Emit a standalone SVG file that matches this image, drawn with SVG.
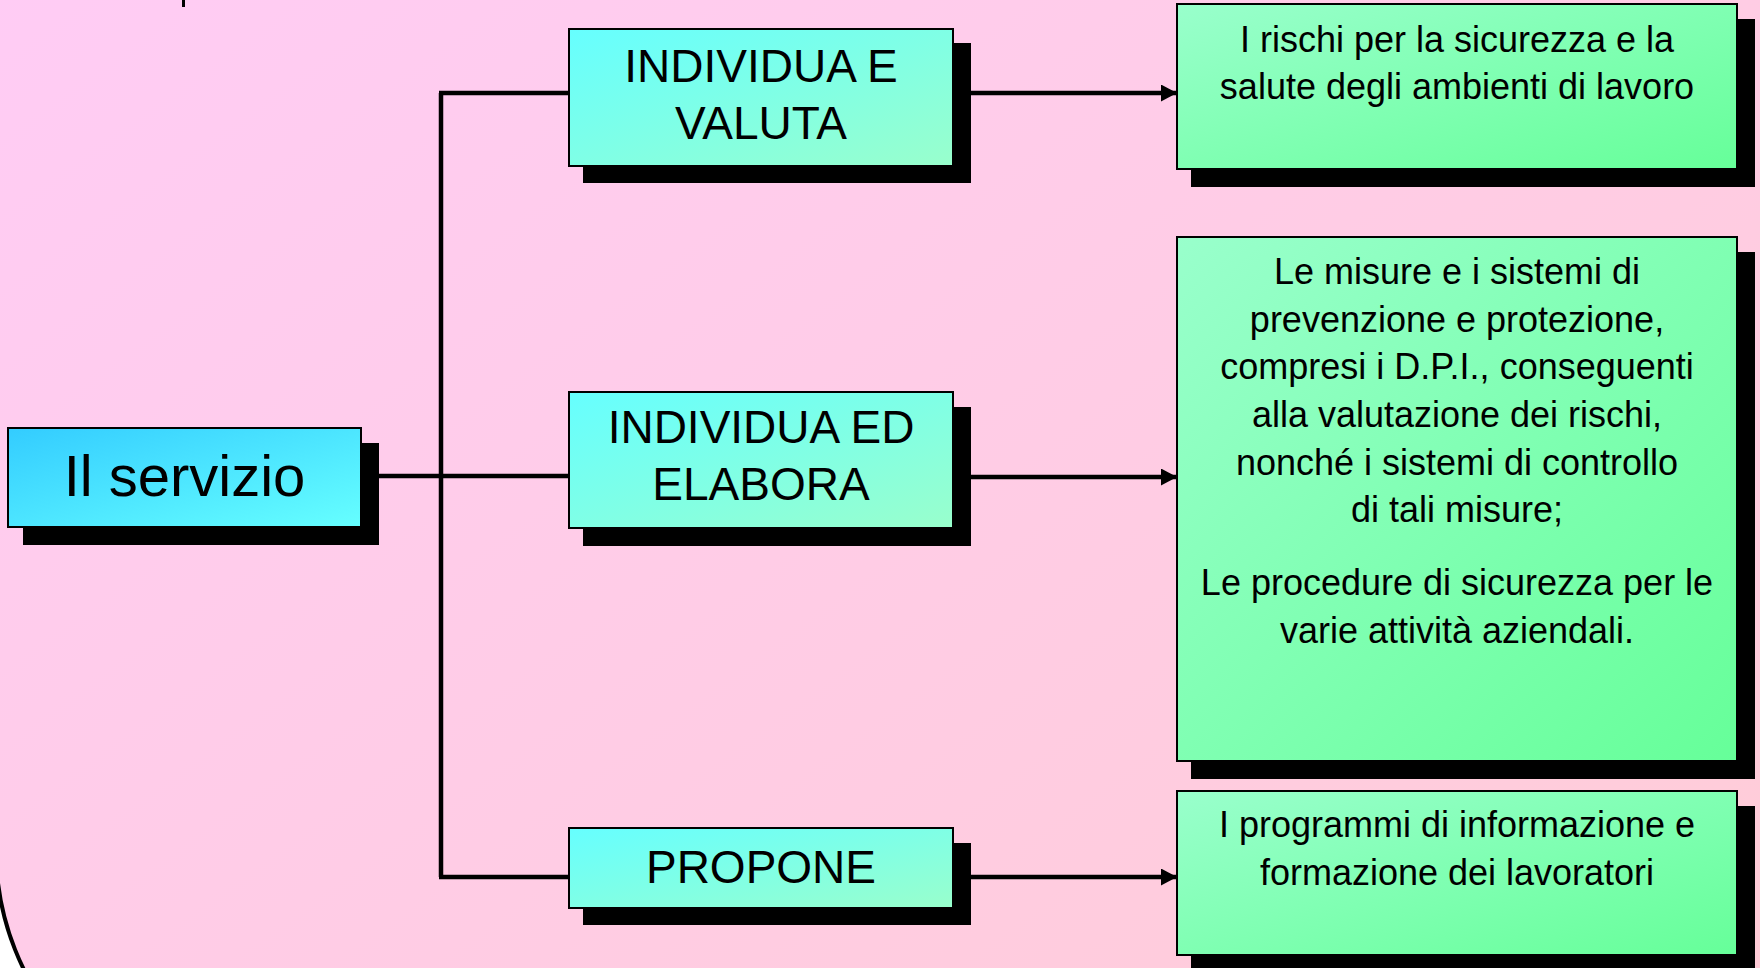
<svg xmlns="http://www.w3.org/2000/svg" width="1760" height="968" viewBox="0 0 1760 968">
  <defs>
    <linearGradient id="bg" x1="0" y1="0" x2="1" y2="1">
      <stop offset="0" stop-color="#FFCCFA"/>
      <stop offset="1" stop-color="#FFCCD2"/>
    </linearGradient>
    <linearGradient id="gMain" x1="0" y1="0" x2="1" y2="1">
      <stop offset="0" stop-color="#33CCFF"/>
      <stop offset="1" stop-color="#66FFFF"/>
    </linearGradient>
    <linearGradient id="gCyan" x1="0" y1="0" x2="1" y2="1">
      <stop offset="0" stop-color="#66FFFF"/>
      <stop offset="1" stop-color="#99FFCC"/>
    </linearGradient>
    <linearGradient id="gGreen" x1="0" y1="0" x2="1" y2="1">
      <stop offset="0" stop-color="#99FFCC"/>
      <stop offset="1" stop-color="#66FF99"/>
    </linearGradient>
    <marker id="arrow" markerUnits="userSpaceOnUse" markerWidth="17" markerHeight="17" refX="16" refY="8.5" orient="auto">
      <path d="M0,0 L16,8.5 L0,17 z" fill="#000"/>
    </marker>
  </defs>
  <style>
    .shadow { fill: #000; }
    .box { stroke: #000; stroke-width: 2; }
    .conn { fill: none; stroke: #000; stroke-width: 4.5; }
    text { font-family: "Liberation Sans", Arial, sans-serif; fill: #000; text-anchor: middle; }
    .t1 { font-size: 58px; }
    .t2 { font-size: 46px; }
    .t3 { font-size: 36px; }
  </style>

  <rect x="0" y="0" width="1760" height="968" fill="#FFFFFF"/>
  <rect x="-4" y="-400" width="2100" height="1520" rx="270" ry="270" fill="url(#bg)" stroke="#000" stroke-width="4"/>
  <rect x="182" y="0" width="3" height="7" fill="#000"/>

  <g id="connectors">
    <path class="conn" d="M379,476 L569,476"/>
    <path class="conn" d="M441,93 L441,877"/>
    <path class="conn" d="M439,93 L569,93"/>
    <path class="conn" d="M439,877 L569,877"/>
    <path class="conn" d="M971,93 L1177,93" marker-end="url(#arrow)"/>
    <path class="conn" d="M971,477 L1177,477" marker-end="url(#arrow)"/>
    <path class="conn" d="M971,877 L1177,877" marker-end="url(#arrow)"/>
  </g>

  <g id="node-servizio">
    <rect class="shadow" x="23" y="443" width="356" height="102"/>
    <rect class="box" x="8" y="428" width="353" height="99" fill="url(#gMain)"/>
    <text class="t1" x="184.5" y="496">Il servizio</text>
  </g>

  <g id="node-individua-valuta">
    <rect class="shadow" x="583" y="43" width="388" height="140"/>
    <rect class="box" x="569" y="29" width="384" height="137" fill="url(#gCyan)"/>
    <text class="t2" x="761" y="82">INDIVIDUA E</text>
    <text class="t2" x="761" y="139">VALUTA</text>
  </g>

  <g id="node-individua-elabora">
    <rect class="shadow" x="583" y="407" width="388" height="139"/>
    <rect class="box" x="569" y="392" width="384" height="136" fill="url(#gCyan)"/>
    <text class="t2" x="761" y="443">INDIVIDUA ED</text>
    <text class="t2" x="761" y="500">ELABORA</text>
  </g>

  <g id="node-propone">
    <rect class="shadow" x="583" y="843" width="388" height="82"/>
    <rect class="box" x="569" y="828" width="384" height="80" fill="url(#gCyan)"/>
    <text class="t2" x="761" y="883">PROPONE</text>
  </g>

  <g id="node-rischi">
    <rect class="shadow" x="1191" y="19" width="564" height="168"/>
    <rect class="box" x="1177" y="4" width="560" height="165" fill="url(#gGreen)"/>
    <text class="t3" x="1457" y="52">I rischi per la sicurezza e la</text>
    <text class="t3" x="1457" y="99">salute degli ambienti di lavoro</text>
  </g>

  <g id="node-misure">
    <rect class="shadow" x="1191" y="252" width="564" height="527"/>
    <rect class="box" x="1177" y="237" width="560" height="524" fill="url(#gGreen)"/>
    <text class="t3" x="1457" y="284">Le misure e i sistemi di</text>
    <text class="t3" x="1457" y="332">prevenzione e protezione,</text>
    <text class="t3" x="1457" y="379">compresi i D.P.I., conseguenti</text>
    <text class="t3" x="1457" y="427">alla valutazione dei rischi,</text>
    <text class="t3" x="1457" y="475">nonché i sistemi di controllo</text>
    <text class="t3" x="1457" y="522">di tali misure;</text>
    <text class="t3" x="1457" y="595">Le procedure di sicurezza per le</text>
    <text class="t3" x="1457" y="643">varie attività aziendali.</text>
  </g>

  <g id="node-programmi">
    <rect class="shadow" x="1191" y="806" width="564" height="168"/>
    <rect class="box" x="1177" y="791" width="560" height="164" fill="url(#gGreen)"/>
    <text class="t3" x="1457" y="837">I programmi di informazione e</text>
    <text class="t3" x="1457" y="885">formazione dei lavoratori</text>
  </g>
</svg>
